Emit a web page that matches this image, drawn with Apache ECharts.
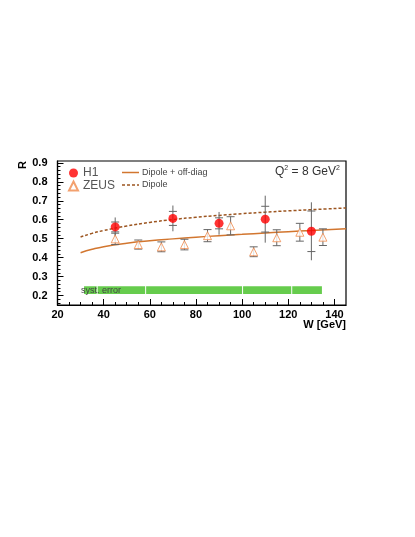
<!DOCTYPE html>
<html>
<head>
<meta charset="utf-8">
<script src="https://cdn.jsdelivr.net/npm/echarts@6/dist/echarts.min.js"></script>
<style>
  html, body { margin: 0; padding: 0; background: #fff; }
  #chart { width: 415px; height: 537px; }
</style>
</head>
<body>
<div id="chart"></div>
<script>
// H1 points: W, R, stat error, total error
const h1W = [45, 70, 90, 110, 130];
const h1R = [0.562, 0.607, 0.581, 0.603, 0.539];
const h1Stat = [0.026, 0.037, 0.029, 0.068, 0.107];
const h1Tot = [0.05, 0.068, 0.06, 0.124, 0.153];

// ZEUS points: W, R, error
const zeusW = [45, 55, 65, 75, 85, 95, 105, 115, 125, 135];
const zeusR = [0.499, 0.469, 0.457, 0.469, 0.516, 0.568, 0.431, 0.505, 0.534, 0.508];
const zeusErr = [0.03, 0.024, 0.026, 0.028, 0.032, 0.048, 0.026, 0.042, 0.047, 0.044];

// model curves
const curveW = [30, 35, 40, 50, 60, 70, 80, 90, 100, 110, 120, 130, 145];
const dipoleR = [0.509, 0.528, 0.543, 0.567, 0.586, 0.601, 0.613, 0.623, 0.632, 0.64, 0.647, 0.653, 0.662];
const offDiagR = [0.426, 0.444, 0.458, 0.476, 0.489, 0.499, 0.508, 0.516, 0.523, 0.53, 0.537, 0.543, 0.552];

// systematic error band
const systEdges = [31.5, 37.4, 58.4, 100.4, 121.7, 135];
const systLo = 0.208;
const systHi = 0.249;

const xTicks = [20, 40, 60, 80, 100, 120, 140];
const yTicks = [0.2, 0.3, 0.4, 0.5, 0.6, 0.7, 0.8, 0.9];

let xMinor = [];
for (let v = 25; v < 145; v += 5) if (v % 20 !== 0) xMinor.push(v);
let yMinor = [];
for (let k = 8; k <= 45; k++) if (k % 5 !== 0) yMinor.push(+(k * 0.02).toFixed(2));

const offDiagColor = "#d2762f";
const dipoleColor = "#9c5520";
const font = "Liberation Sans, Arial, sans-serif";

const chart = echarts.init(document.getElementById("chart"));

const h1Data = h1W.map((w, i) => [w, h1R[i]]);
const zeusData = zeusW.map((w, i) => [w, zeusR[i]]);
const h1Err = h1W.map((w, i) => [w, h1R[i], h1Stat[i], h1Tot[i]]);
const zeusErrData = zeusW.map((w, i) => [w, zeusR[i], zeusErr[i], zeusErr[i]]);
const bandData = [];
for (let i = 0; i < systEdges.length - 1; i++) bandData.push([systEdges[i], systEdges[i + 1]]);

function errRender(params, api) {
  const x = api.value(0), y = api.value(1);
  const stat = api.value(2), tot = api.value(3);
  const top = api.coord([x, y + tot]);
  const bot = api.coord([x, y - tot]);
  const st = api.coord([x, y + stat]);
  const sb = api.coord([x, y - stat]);
  const style = { stroke: "#666", lineWidth: 1 };
  const cw = 4;
  return {
    type: "group",
    children: [
      { type: "line", shape: { x1: top[0], y1: top[1], x2: bot[0], y2: bot[1] }, style },
      { type: "line", shape: { x1: st[0] - cw, y1: st[1], x2: st[0] + cw, y2: st[1] }, style },
      { type: "line", shape: { x1: sb[0] - cw, y1: sb[1], x2: sb[0] + cw, y2: sb[1] }, style }
    ]
  };
}

function bandRender(params, api) {
  const p0 = api.coord([api.value(0), systHi]);
  const p1 = api.coord([api.value(1), systLo]);
  return {
    type: "rect",
    shape: { x: p0[0], y: p0[1], width: p1[0] - p0[0] - 1, height: p1[1] - p0[1] },
    style: { fill: "#66cc4d" }
  };
}

chart.setOption({
  animation: false,
  textStyle: { fontFamily: font },
  grid: { show: true, borderColor: "#000", borderWidth: 1.2, backgroundColor: "#fff", left: 57.5, right: 69, top: 161, bottom: 232 },
  legend: {
    data: ["H1", "ZEUS"],
    orient: "vertical",
    left: 68,
    top: 167,
    padding: 0,
    itemWidth: 9,
    itemHeight: 9,
    itemGap: 1,
    textStyle: { fontSize: 12, color: "#555" }
  },
  xAxis: [
    {
      type: "value",
      min: 20,
      max: 145,
      axisLine: { show: true, lineStyle: { color: "#000", width: 1.2 } },
      axisTick: { inside: true, length: 6, customValues: xTicks, lineStyle: { color: "#000" } },
      axisLabel: { customValues: xTicks, fontWeight: "bold", fontSize: 11, color: "#000", margin: 4 },
      splitLine: { show: false }
    },
    {
      type: "value",
      min: 20,
      max: 145,
      position: "bottom",
      axisLine: { show: false },
      axisTick: { inside: true, length: 3, customValues: xMinor, lineStyle: { color: "#000" } },
      axisLabel: { show: false },
      splitLine: { show: false }
    }
  ],
  yAxis: [
    {
      type: "value",
      min: 0.15,
      max: 0.91,
      axisLine: { show: true, lineStyle: { color: "#000", width: 1.2 } },
      axisTick: { inside: true, length: 6, customValues: yTicks, lineStyle: { color: "#000" } },
      axisLabel: { customValues: yTicks, fontWeight: "bold", fontSize: 11, color: "#000", margin: 10, formatter: v => v.toFixed(1) },
      splitLine: { show: false }
    },
    {
      type: "value",
      min: 0.15,
      max: 0.91,
      position: "left",
      axisLine: { show: false },
      axisTick: { inside: true, length: 3, customValues: yMinor, lineStyle: { color: "#000" } },
      axisLabel: { show: false },
      splitLine: { show: false }
    }
  ],
  graphic: [
    // line legend
    { type: "line", shape: { x1: 122, y1: 172.5, x2: 139, y2: 172.5 }, style: { stroke: offDiagColor, lineWidth: 1.5 } },
    { type: "text", x: 142, y: 172.5, style: { text: "Dipole + off-diag", fontSize: 9, fill: "#444", fontFamily: font, verticalAlign: "middle" } },
    { type: "line", shape: { x1: 122, y1: 185, x2: 139, y2: 185 }, style: { stroke: dipoleColor, lineWidth: 1.5, lineDash: [3, 2] } },
    { type: "text", x: 142, y: 185, style: { text: "Dipole", fontSize: 9, fill: "#444", fontFamily: font, verticalAlign: "middle" } },
    {
      type: "text",
      x: 275,
      y: 165,
      style: { rich: { a: { fontSize: 12, fill: "#333", fontFamily: font }, s: { fontSize: 7, fill: "#333", fontFamily: font, verticalAlign: "top", padding: [0, 0, 6, 0] } }, text: "{a|Q}{s|2}{a| = 8 GeV}{s|2}" }
    },
    { type: "text", x: 81, y: 290.5, z: 10, style: { text: "syst. error", fontSize: 9, fill: "#444", fontFamily: font, verticalAlign: "middle" } },
    { type: "text", x: 23, y: 165, rotation: Math.PI / 2, style: { text: "R", fontSize: 11, fontWeight: "bold", fill: "#000", fontFamily: font, align: "center", verticalAlign: "middle" } },
    { type: "text", x: 346, y: 325, style: { text: "W [GeV]", fontSize: 11, fontWeight: "bold", fill: "#000", fontFamily: font, align: "right", verticalAlign: "middle" } }
  ],
  series: [
    {
      type: "custom",
      name: "syst",
      renderItem: bandRender,
      data: bandData,
      encode: { x: [0, 1] },
      z: 1,
      silent: true
    },
    {
      name: "Dipole + off-diag",
      type: "line",
      data: curveW.map((w, i) => [w, offDiagR[i]]),
      smooth: true,
      symbol: "none",
      lineStyle: { color: offDiagColor, width: 1.5 },
      z: 3
    },
    {
      name: "Dipole",
      type: "line",
      data: curveW.map((w, i) => [w, dipoleR[i]]),
      smooth: true,
      symbol: "none",
      lineStyle: { color: dipoleColor, width: 1.5, type: [3, 2] },
      z: 3
    },
    {
      type: "custom",
      name: "h1err",
      renderItem: errRender,
      data: h1Err,
      encode: { x: 0, y: 1 },
      z: 4
    },
    {
      type: "custom",
      name: "zeuserr",
      renderItem: errRender,
      data: zeusErrData,
      encode: { x: 0, y: 1 },
      z: 4
    },
    {
      name: "H1",
      type: "scatter",
      data: h1Data,
      symbol: "circle",
      symbolSize: 9,
      itemStyle: { color: "#ff0000" },
      z: 6
    },
    {
      name: "ZEUS",
      type: "scatter",
      data: zeusData,
      symbol: "triangle",
      symbolSize: 8,
      itemStyle: { color: "#fff", borderColor: "#f08a4b", borderWidth: 1 },
      z: 6
    }
  ]
});
</script>
</body>
</html>
